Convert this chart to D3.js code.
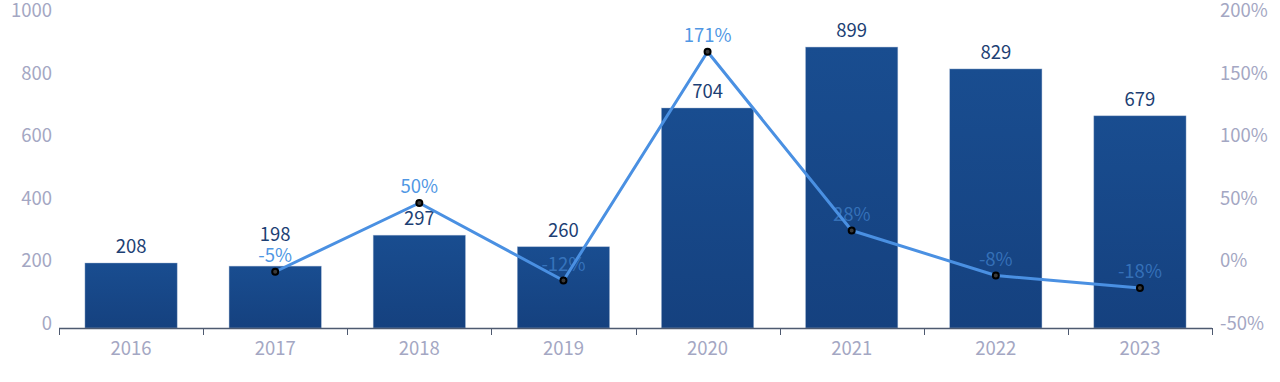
<!DOCTYPE html>
<html><head><meta charset="utf-8">
<script src="https://cdn.jsdelivr.net/npm/d3@7"></script>
<style>html,body{margin:0;padding:0;background:#fff;}svg{display:block;}</style>
</head><body>
<script>
const years = ["2016","2017","2018","2019","2020","2021","2022","2023"];
const counts = [208,198,297,260,704,899,829,679];
const growth = [null,-5,50,-12,171,28,-8,-18];
const leftTicks = [0,200,400,600,800,1000];
const rightTicks = [-50,0,50,100,150,200];

const W=1280,H=382;
const font='"Noto Sans CJK SC","Noto Sans",sans-serif';
const svg=d3.select("body").append("svg").attr("width",W).attr("height",H);
const defs=svg.append("defs");
const g=defs.append("linearGradient").attr("id","bg").attr("x1",0).attr("y1",0).attr("x2",0).attr("y2",1);
g.append("stop").attr("offset","0%").attr("stop-color","#194d90");
g.append("stop").attr("offset","100%").attr("stop-color","#15417f");

const x=d3.scaleBand().domain(years).range([59,1212]).padding(0);
const y=d3.scaleLinear().domain([0,1000]).range([328,15.5]);
const y2=d3.scaleLinear().domain([-50,200]).range([328,15.5]);
const bw=x.bandwidth()*0.64;
const cx=i=>x(years[i])+x.bandwidth()/2;

// left axis labels
svg.append("g").selectAll("text").data(leftTicks).join("text")
 .attr("x",52).attr("y",d=>y(d)-4.5).attr("dy","0.35em").attr("text-anchor","end")
 .attr("font-family",font).attr("font-size",18.5).attr("fill","#a4a7c3").text(d=>d);
// right axis labels
svg.append("g").selectAll("text").data(rightTicks).join("text")
 .attr("x",1220).attr("y",d=>y2(d)-4.5).attr("dy","0.35em").attr("text-anchor","start")
 .attr("font-family",font).attr("font-size",18.5).attr("fill","#a4a7c3").text(d=>d+"%");

// bars
svg.append("g").selectAll("rect").data(counts).join("rect")
 .attr("x",(d,i)=>x(years[i])+(x.bandwidth()-bw)/2).attr("width",bw)
 .attr("y",d=>y(d)).attr("height",d=>y(0)-y(d))
 .attr("fill","url(#bg)").attr("stroke","#9fb3d1").attr("stroke-width",0.6).attr("stroke-opacity",0.7);

// x axis
const xa=svg.append("g");
xa.append("line").attr("x1",59).attr("x2",1212).attr("y1",328.5).attr("y2",328.5).attr("stroke","#4e5a70").attr("stroke-width",1.3);
const bounds=years.map(d=>x(d)).concat([x(years[years.length-1])+x.bandwidth()]);
xa.selectAll("line.t").data(bounds).join("line").attr("class","t")
 .attr("x1",d=>Math.round(d)+0.5).attr("x2",d=>Math.round(d)+0.5).attr("y1",328).attr("y2",335)
 .attr("stroke","#4e5a70").attr("stroke-width",1);
xa.selectAll("text").data(years).join("text")
 .attr("x",d=>x(d)+x.bandwidth()/2).attr("y",349).attr("dy","0.35em").attr("text-anchor","middle")
 .attr("font-family",font).attr("font-size",18.5).attr("fill","#a4a7c3").text(d=>d);

// growth label positions
const pts=growth.map((v,i)=>({v,i})).filter(d=>d.v!==null);
const pctY=i=>growth[i]===null?null:y2(growth[i])-10;

// bar value labels (moved up if they collide with a growth label)
svg.append("g").selectAll("text").data(counts).join("text")
 .attr("x",(d,i)=>cx(i))
 .attr("y",(d,i)=>{let vy=y(d)-10;const py=pctY(i);if(py!==null&&Math.abs(vy-py)<20)vy=py-21;return vy;})
 .attr("text-anchor","middle").attr("font-family",font).attr("font-size",18.5).attr("fill","#1d3f74").text(d=>d);

svg.append("g").selectAll("text").data(pts).join("text")
 .attr("x",d=>cx(d.i)).attr("y",d=>pctY(d.i))
 .attr("text-anchor","middle").attr("font-family",font).attr("font-size",18.5)
 .attr("fill","#5097e4").attr("fill-opacity",d=>(pctY(d.i)-12>y(counts[d.i]))?0.55:1)
 .text(d=>d.v+"%");

// line
const line=d3.line().x(d=>cx(d.i)).y(d=>y2(d.v));
svg.append("path").datum(pts).attr("d",line).attr("fill","none").attr("stroke","#4a90e2").attr("stroke-width",3).attr("stroke-linejoin","round");
svg.append("g").selectAll("circle").data(pts).join("circle")
 .attr("cx",d=>cx(d.i)).attr("cy",d=>y2(d.v)).attr("r",3)
 .attr("fill","#3a3a3a").attr("stroke","#000").attr("stroke-width",2);
</script>
</body></html>
